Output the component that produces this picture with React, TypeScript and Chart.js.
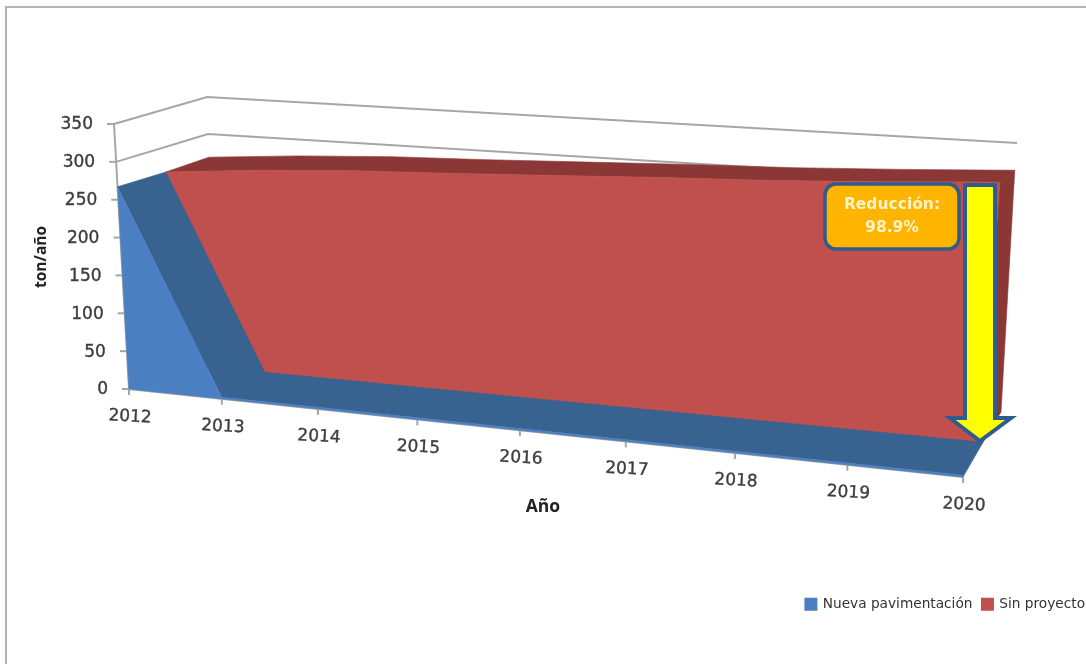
import React, { useEffect, useRef } from "react";
import { Chart, LineController, registerables } from "chart.js";

Chart.register(...registerables);

// ---- data ----
const years = ["2012", "2013", "2014", "2015", "2016", "2017", "2018", "2019", "2020"];
const nuevaPavimentacion = [267, 2, 2, 2, 2, 2, 2, 2, 2];
const sinProyecto = [267, 273, 276, 276, 277, 278, 278, 280, 283];
const yTicksMax = 350;
const yTicksStep = 50;

// ---- look ----
const BLUE = "#4a7fc1";
const BLUE_DARK = "#38628f";
const RED = "#c0504d";
const RED_DARK = "#8b3735";
const GRID = "#a6a6a6";
const TEXT = "#3c3c3c";

// Planes of the 3D box on the screen: [bottom-left, top-left, bottom-right, top-right]
type P = [number, number];
type Plane = [P, P, P, P];
const PLANE_FRONT: Plane = [[129, 389], [114, 124], [963, 477], [983, 150]];
const PLANE_MID: Plane = [[175, 365], [163, 112], [982, 444], [1004, 120]];
const PLANE_BACK: Plane = [[222, 341], [205, 100], [1001, 412], [1018, 113]];
const PLANE_WALL: Plane = [[214, 356], [207, 97], [1000, 423], [1017, 143]];

// Perspective foreshortening along the horizontal axis
const bend = (u: number) => 0.875 * u + 0.125 * u * u;

function project(plane: Plane, u: number, v: number): P {
  const s = bend(u);
  const [bl, tl, br, tr] = plane;
  const l: P = [bl[0] + (tl[0] - bl[0]) * v, bl[1] + (tl[1] - bl[1]) * v];
  const r: P = [br[0] + (tr[0] - br[0]) * v, br[1] + (tr[1] - br[1]) * v];
  return [l[0] + (r[0] - l[0]) * s, l[1] + (r[1] - l[1]) * s];
}

function poly(ctx: CanvasRenderingContext2D, pts: P[], fill: string) {
  ctx.beginPath();
  pts.forEach((p, i) => (i ? ctx.lineTo(p[0], p[1]) : ctx.moveTo(p[0], p[1])));
  ctx.closePath();
  ctx.fillStyle = fill;
  ctx.strokeStyle = fill;
  ctx.lineWidth = 0.6;
  ctx.fill();
  ctx.stroke();
}

function heavyText(ctx: CanvasRenderingContext2D, s: string, x: number, y: number) {
  ctx.lineWidth = 0.35;
  ctx.strokeStyle = ctx.fillStyle as string;
  ctx.strokeText(s, x, y);
  ctx.fillText(s, x, y);
}

function unit(chart: any, px: number, py: number): [number, number] {
  const xs = chart.scales.x;
  const ys = chart.scales.y;
  return [(px - xs.left) / (xs.right - xs.left), (ys.bottom - py) / (ys.bottom - ys.top)];
}

// A line controller whose series are drawn as 3D ribbons in the projected box
class Area3DController extends LineController {
  static id = "area3d";
  static defaults = LineController.defaults;
  draw() {
    const chart: any = this.chart;
    const ctx: CanvasRenderingContext2D = chart.ctx;
    const meta: any = this.getMeta();
    const ds: any = this.getDataset();
    const front: Plane = ds.frontPlane;
    const back: Plane = ds.backPlane;
    const uv: [number, number][] = meta.data.map((pt: any) => unit(chart, pt.x, pt.y));
    ctx.save();
    const last = uv[uv.length - 1];
    // top surface of the ribbon, as one piece
    const frontEdge: P[] = uv.map((p) => project(front, p[0], p[1]));
    const backEdge: P[] = uv.map((p) => project(back, p[0], p[1]));
    poly(ctx, [...frontEdge, ...backEdge.slice().reverse()], ds.sideColor);
    // end cap
    poly(
      ctx,
      [project(front, last[0], last[1]), project(back, last[0], last[1]), project(back, last[0], 0), project(front, last[0], 0)],
      ds.sideColor
    );
    // front face
    const face: P[] = frontEdge.slice();
    face.push(project(front, last[0], 0), project(front, uv[0][0], 0));
    poly(ctx, face, ds.backgroundColor);
    ctx.restore();
  }
}
Chart.register(Area3DController);

const boxPlugin = {
  id: "box3d",
  beforeDatasetsDraw(chart: any) {
    const ctx: CanvasRenderingContext2D = chart.ctx;
    const xs = chart.scales.x;
    const ys = chart.scales.y;
    ctx.save();
    // page frame
    ctx.strokeStyle = "#b4b4b4";
    ctx.lineWidth = 2;
    ctx.beginPath();
    ctx.moveTo(6, 664);
    ctx.lineTo(6, 7);
    ctx.lineTo(1086, 7);
    ctx.stroke();

    // grid lines on the side wall and the back wall
    ys.ticks.forEach((t: any) => {
      const v = (ys.bottom - ys.getPixelForValue(t.value)) / (ys.bottom - ys.top);
      const a = project(PLANE_FRONT, 0, v);
      const b = project(PLANE_WALL, 0, v);
      const c = project(PLANE_WALL, 1, v);
      ctx.strokeStyle = GRID;
      ctx.lineWidth = 2;
      ctx.beginPath();
      ctx.moveTo(a[0], a[1]);
      ctx.lineTo(b[0], b[1]);
      ctx.lineTo(c[0], c[1]);
      ctx.stroke();
      // tick mark + label
      ctx.beginPath();
      ctx.moveTo(a[0], a[1]);
      ctx.lineTo(a[0] - 7, a[1]);
      ctx.stroke();
      ctx.fillStyle = TEXT;
      ctx.font = "17px 'DejaVu Sans'";
      ctx.textAlign = "right";
      ctx.textBaseline = "middle";
      heavyText(ctx, String(t.value), a[0] - 21, a[1] + 1);
    });

    // axis lines
    const a0 = project(PLANE_FRONT, 0, 0);
    const a1 = project(PLANE_FRONT, 0, 1);
    const a2 = project(PLANE_FRONT, 1, 0);
    ctx.strokeStyle = GRID;
    ctx.lineWidth = 2;
    ctx.beginPath();
    ctx.moveTo(a1[0], a1[1]);
    ctx.lineTo(a0[0], a0[1]);
    ctx.lineTo(a2[0], a2[1]);
    ctx.stroke();

    // x ticks
    xs.ticks.forEach((t: any, i: number) => {
      const u = (xs.getPixelForTick(i) - xs.left) / (xs.right - xs.left);
      const p = project(PLANE_FRONT, u, 0);
      ctx.strokeStyle = GRID;
      ctx.lineWidth = 2;
      ctx.beginPath();
      ctx.moveTo(p[0], p[1]);
      ctx.lineTo(p[0], p[1] + 6);
      ctx.stroke();
      ctx.save();
      ctx.translate(p[0] + 1, p[1] + 28);
      ctx.rotate((3 * Math.PI) / 180);
      ctx.fillStyle = TEXT;
      ctx.font = "17px 'DejaVu Sans'";
      ctx.textAlign = "center";
      ctx.textBaseline = "middle";
      heavyText(ctx, String(t.label), 0, 0);
      ctx.restore();
    });

    // axis titles
    ctx.fillStyle = "#222222";
    ctx.textAlign = "center";
    ctx.textBaseline = "middle";
    ctx.font = "bold 17.5px 'Open Sans'";
    ctx.fillText("Año", 543, 507);
    ctx.save();
    ctx.translate(42, 257);
    ctx.rotate(-Math.PI / 2);
    ctx.font = "bold 15.5px 'Open Sans'";
    ctx.fillText("ton/año", 0, 0);
    ctx.restore();
    ctx.restore();
  },
  afterDatasetsDraw(chart: any) {
    const ctx: CanvasRenderingContext2D = chart.ctx;
    ctx.save();
    // reduction arrow
    const arrow: P[] = [
      [965, 185], [995, 185], [995, 418], [1011, 418], [980, 441], [950, 418], [965, 418],
    ];
    ctx.beginPath();
    arrow.forEach((p, i) => (i ? ctx.lineTo(p[0], p[1]) : ctx.moveTo(p[0], p[1])));
    ctx.closePath();
    ctx.fillStyle = "#ffff00";
    ctx.strokeStyle = "#2f5c8f";
    ctx.lineWidth = 4;
    ctx.fill();
    ctx.stroke();
    // callout
    ctx.beginPath();
    ctx.roundRect(825, 184, 134, 65, 11);
    ctx.fillStyle = "#ffb400";
    ctx.strokeStyle = "#2f5c8f";
    ctx.lineWidth = 3.5;
    ctx.fill();
    ctx.stroke();
    ctx.fillStyle = "#fff3c8";
    ctx.font = "bold 15.5px 'DejaVu Sans'";
    ctx.textAlign = "center";
    ctx.textBaseline = "middle";
    ctx.fillText("Reducción:", 892, 205);
    ctx.fillText("98.9%", 892, 228);
    ctx.restore();
  },
};

export default function App() {
  const ref = useRef<HTMLCanvasElement>(null);
  useEffect(() => {
    const chart = new Chart(ref.current as HTMLCanvasElement, {
      type: "area3d" as any,
      data: {
        labels: years,
        datasets: [
          {
            label: "Nueva pavimentación",
            data: nuevaPavimentacion,
            backgroundColor: BLUE,
            borderColor: BLUE,
            sideColor: BLUE_DARK,
            frontPlane: PLANE_FRONT,
            backPlane: PLANE_MID,
            clip: false,
            pointRadius: 0,
          },
          {
            label: "Sin proyecto",
            data: sinProyecto,
            backgroundColor: RED,
            borderColor: RED,
            sideColor: RED_DARK,
            frontPlane: PLANE_MID,
            backPlane: PLANE_BACK,
            clip: false,
            pointRadius: 0,
          },
        ] as any,
      },
      options: {
        animation: false,
        responsive: false,
        layout: { padding: { bottom: 43, right: -9, top: 10, left: 10 } },
        scales: {
          x: { type: "category", display: false, offset: false },
          y: { type: "linear", display: false, min: 0, max: yTicksMax, ticks: { stepSize: yTicksStep } },
        },
        plugins: {
          tooltip: { enabled: false },
          legend: {
            position: "bottom",
            align: "end",
            labels: {
              boxWidth: 10,
              boxHeight: 10,
              padding: 10,
              color: "#333333",
              font: { family: "'DejaVu Sans'", size: 13.7 },
            },
          },
        },
      },
      plugins: [boxPlugin],
    } as any);
    return () => chart.destroy();
  }, []);
  return (
    <div style={{ position: "absolute", left: 0, top: 0, width: 1086, height: 664, background: "#fff" }}>
      <canvas ref={ref} width={1086} height={664} style={{ display: "block", filter: "blur(0.5px)" }} />
    </div>
  );
}
